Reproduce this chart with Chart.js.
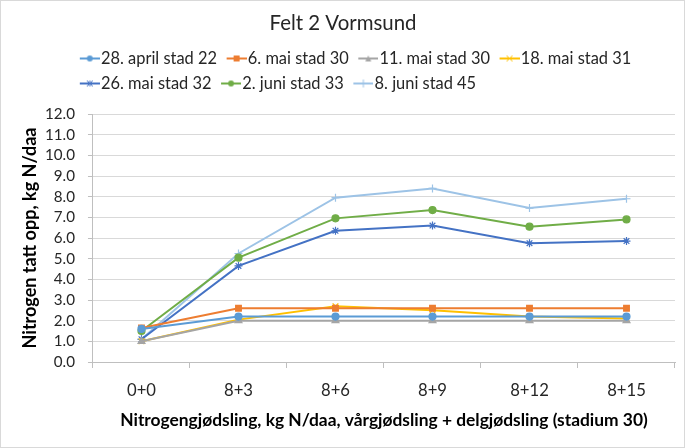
<!DOCTYPE html>
<html>
<head>
<meta charset="utf-8">
<script src="https://cdn.jsdelivr.net/npm/chart.js@4.4.0/dist/chart.umd.min.js"></script>
<style>
  html, body { margin: 0; padding: 0; background: #fff; }
  #wrap { position: relative; width: 683px; height: 446px; border: 1px solid #d9d9d9; }
</style>
</head>
<body>
<div id="wrap"><canvas id="myChart"></canvas></div>
<script>
// categories and series
const categories = ['0+0', '8+3', '8+6', '8+9', '8+12', '8+15'];
const seriesNames = ['28. april stad 22', '6. mai stad 30', '11. mai stad 30', '18. mai stad 31',
                     '26. mai stad 32', '2. juni stad 33', '8. juni stad 45'];
const april28 = [1.6, 2.2, 2.2, 2.2, 2.2, 2.2];
const mai6    = [1.65, 2.6, 2.6, 2.6, 2.6, 2.6];
const mai11   = [1.0, 2.0, 2.0, 2.0, 2.0, 2.0];
const mai18   = [1.0, 2.05, 2.7, 2.5, 2.2, 2.1];
const mai26   = [1.1, 4.65, 6.35, 6.6, 5.75, 5.85];
const juni2   = [1.5, 5.05, 6.95, 7.35, 6.55, 6.9];
const juni8   = [1.1, 5.25, 7.95, 8.4, 7.45, 7.9];
const yTicks  = [0, 1, 2, 3, 4, 5, 6, 7, 8, 9, 10, 11, 12];

const chartTitle = 'Felt 2 Vormsund';
const xTitle = 'Nitrogengjødsling, kg N/daa, vårgjødsling + delgjødsling (stadium 30)';
const yTitle = 'Nitrogen tatt opp, kg N/daa';

const colors = ['#5B9BD5', '#ED7D31', '#A5A5A5', '#FFC000', '#4472C4', '#70AD47', '#9DC3E6'];
const styles = ['circle', 'rect', 'triangle', 'crossRot', 'star', 'circle', 'cross'];
const values = [april28, mai6, mai11, mai18, mai26, juni2, juni8];

const FONT = 'Lato, "Open Sans", sans-serif';
const TEXT = '#262626';

// pick font sizes so text widths match the original (Calibri) widths
const mctx = document.createElement('canvas').getContext('2d');
function fitSize(text, target, weight) {
  mctx.font = (weight || 'normal') + ' 20px ' + FONT;
  return Math.round(2000 * target / mctx.measureText(text).width) / 100;
}
const titleSize  = fitSize(chartTitle, 147);
const legendSize = fitSize(seriesNames[0], 116);
const yTickSize  = fitSize('12.0', 30);
const xTickSize  = fitSize(categories[0], 29);
const xTitleSize = fitSize(xTitle, 528, 'bold');
const yTitleSize = fitSize(yTitle, 221, 'bold');

// target layout in canvas pixels (canvas sits 1px inside the border)
// note: Chart.js reserves tick padding twice when fitting an axis
const H = 446, PLOT_TOP = 113, PLOT_LEFT = 92, AXIS_Y = 361;
const PAD_L = 10, PAD_R = 9;
const LEGEND_SHIFT = 12;
const titleLH = titleSize * 1.2;
const titlePt = 22.5 - titleLH / 2;
const legPad = 25 - legendSize;
const legendTop = 57.5 - legPad - legendSize / 2;
const titlePb = legendTop - titlePt - titleLH;
const yTitleLH = yTitleSize * 1.2;
const yTitlePt = 29 - PAD_L - yTitleLH / 2;
const yTickLen = 5, yTickPad = 13;
const yTitlePb = PLOT_LEFT - PAD_L - yTitlePt - yTitleLH - yTickLen - 2 * yTickPad - 30;
const xTickLen = 6;
const xTickPad = 386 - AXIS_Y - xTickLen - 0.4 * xTickSize;
const xTitleLH = xTitleSize * 1.2;
const xTitlePb = H - 419.5 - xTitleLH / 2;
const xTitlePt = (H - AXIS_Y) - xTickLen - 2 * xTickPad - xTickSize * 1.2 - xTitleLH - xTitlePb;

// small legend icon: a line with the marker in the middle (shifted right so text sits close)
function legendIcon(color, style) {
  const c = document.createElement('canvas');
  c.width = 28; c.height = 10;
  const g = c.getContext('2d');
  g.strokeStyle = color; g.fillStyle = color; g.lineWidth = 2;
  g.beginPath(); g.moveTo(8, 5); g.lineTo(28, 5); g.stroke();
  g.lineWidth = 1;
  const x = 18, y = 5, r = 3;
  g.beginPath();
  if (style === 'circle') { g.arc(x, y, r, 0, Math.PI * 2); g.fill(); }
  else if (style === 'rect') { g.fillRect(x - r, y - r, 2 * r, 2 * r); }
  else if (style === 'triangle') { g.moveTo(x, y - r); g.lineTo(x + r, y + r); g.lineTo(x - r, y + r); g.closePath(); g.fill(); }
  else if (style === 'crossRot') { g.moveTo(x - r, y - r); g.lineTo(x + r, y + r); g.moveTo(x + r, y - r); g.lineTo(x - r, y + r); g.stroke(); }
  else if (style === 'star') { g.moveTo(x - r, y - r); g.lineTo(x + r, y + r); g.moveTo(x + r, y - r); g.lineTo(x - r, y + r); g.moveTo(x, y - r); g.lineTo(x, y + r); g.stroke(); }
  else if (style === 'cross') { g.moveTo(x, y - r - 1); g.lineTo(x, y + r + 1); g.stroke(); }
  return c;
}
const icons = colors.map((c, i) => legendIcon(c, styles[i]));

const datasets = seriesNames.map((name, i) => ({
  label: name,
  data: values[i],
  borderColor: colors[i],
  backgroundColor: colors[i],
  borderWidth: 2,
  pointStyle: styles[i],
  pointRadius: styles[i] === 'circle' ? 3.5 : 4,
  pointBorderWidth: 1.2,
  tension: 0
}));

// legend: leave room below it, nudge it right, and start the second row under the first
const legendTweaks = {
  id: 'legendTweaks',
  afterInit(chart) {
    const lg = chart.legend;
    const fit = lg.fit;
    lg.fit = function () { fit.call(this); this.height = PLOT_TOP - legendTop; };
  },
  beforeDraw(chart) {
    const lg = chart.legend;
    const lw = lg.lineWidths;
    if (lw && lw.length > 1) { const first = lw[0]; lg.lineWidths = lw.map(() => first); }
    lg.left += LEGEND_SHIFT; lg.right += LEGEND_SHIFT;
  },
  afterDraw(chart) {
    chart.legend.left -= LEGEND_SHIFT; chart.legend.right -= LEGEND_SHIFT;
  }
};

Chart.defaults.font.family = FONT;

new Chart(document.getElementById('myChart'), {
  type: 'line',
  data: { labels: categories, datasets: datasets },
  plugins: [legendTweaks],
  options: {
    responsive: true,
    maintainAspectRatio: false,
    animation: false,
    layout: { padding: { left: PAD_L, right: PAD_R, top: 0, bottom: 0 } },
    plugins: {
      title: {
        display: true,
        text: chartTitle,
        color: TEXT,
        font: { size: titleSize, weight: 'normal', lineHeight: 1.2 },
        padding: { top: titlePt, bottom: titlePb }
      },
      legend: {
        position: 'top',
        labels: {
          usePointStyle: true,
          pointStyleWidth: 14,
          padding: legPad,
          color: TEXT,
          font: { size: legendSize },
          generateLabels(chart) {
            return chart.data.datasets.map((ds, i) => ({
              text: ds.label,
              pointStyle: icons[i],
              fillStyle: ds.borderColor,
              strokeStyle: ds.borderColor,
              lineWidth: 0,
              hidden: false,
              datasetIndex: i,
              fontColor: TEXT
            }));
          }
        }
      },
      tooltip: { enabled: false }
    },
    scales: {
      x: {
        offset: true,
        grid: { offset: true, drawOnChartArea: false, drawTicks: true, tickLength: xTickLen, color: '#bfbfbf' },
        border: { color: '#bfbfbf' },
        ticks: { color: TEXT, font: { size: xTickSize, lineHeight: 1.2 }, padding: xTickPad, maxRotation: 0, autoSkip: false },
        title: {
          display: true,
          text: xTitle,
          color: '#000',
          font: { size: xTitleSize, weight: 'bold', lineHeight: 1.2 },
          padding: { top: xTitlePt, bottom: xTitlePb }
        }
      },
      y: {
        min: 0,
        max: 12,
        afterBuildTicks(scale) { scale.ticks = yTicks.map(v => ({ value: v })); },
        grid: { color: '#d9d9d9', tickLength: yTickLen, tickColor: '#bfbfbf' },
        border: { color: '#bfbfbf' },
        ticks: { color: TEXT, font: { size: yTickSize }, padding: yTickPad, autoSkip: false,
                 callback: v => Number(v).toFixed(1) },
        title: {
          display: true,
          text: yTitle,
          color: '#000',
          font: { size: yTitleSize, weight: 'bold', lineHeight: 1.2 },
          padding: { top: yTitlePt, bottom: yTitlePb }
        }
      }
    }
  }
});
</script>
</body>
</html>
